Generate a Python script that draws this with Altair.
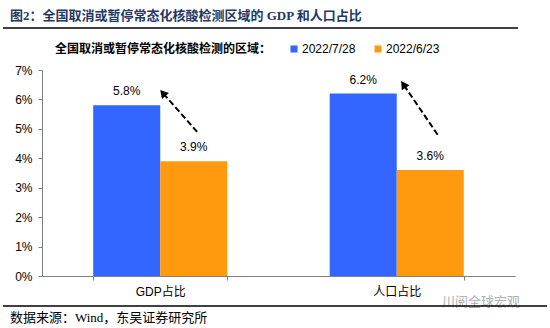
import altair as alt
import pandas as pd

# ---- data ----
categories = ["GDP占比", "人口占比"]
series = ["2022/7/28", "2022/6/23"]
values_0728 = [0.058, 0.062]
values_0623 = [0.039, 0.036]
labels_0728 = ["5.8%", "6.2%"]
labels_0623 = ["3.9%", "3.6%"]
colors = ["#3366FF", "#FF9A0E"]
y_ticks = [0.0, 0.01, 0.02, 0.03, 0.04, 0.05, 0.06, 0.07]

# dashed arrows (x in category units 0..2, y in value units)
arrow_tail_x = [0.656, 1.673]
arrow_tail_y = [0.049, 0.048]
arrow_head_x = [0.511, 1.528]
arrow_head_y = [0.0622, 0.0651]
arrow_angle = [319, 326]

title_text = "图2：全国取消或暂停常态化核酸检测区域的 GDP 和人口占比"
legend_title = "全国取消或暂停常态化核酸检测的区域："
source_text = "数据来源：Wind，东吴证券研究所"
watermark_text = "川阅全球宏观"

SANS = "Liberation Sans, Arial, Noto Sans CJK SC"
SERIF = "Liberation Serif, Times New Roman, Noto Sans CJK SC"

rows = []
for c, v1, v2, l1, l2 in zip(categories, values_0728, values_0623, labels_0728, labels_0623):
    rows.append({"category": c, "series": series[0], "value": v1, "label": l1})
    rows.append({"category": c, "series": series[1], "value": v2, "label": l2})
df = pd.DataFrame(rows)

arrow_df = pd.DataFrame({"tx": arrow_tail_x, "ty": arrow_tail_y,
                         "hx": arrow_head_x, "hy": arrow_head_y,
                         "angle": arrow_angle})

yscale = alt.Scale(domain=[0, 0.07], nice=False)
xscale = alt.Scale(domain=categories, paddingInner=0.433, paddingOuter=0.2165)

x_axis = alt.Axis(title=None, labelAngle=0, tickBand="extent", tickSize=4,
                  labelPadding=6, labelFontSize=12, labelFont=SANS,
                  labelColor="black", domainColor="#7f7f7f", tickColor="#7f7f7f")
y_axis = alt.Axis(title=None, values=y_ticks, format=".0%", tickSize=4,
                  labelPadding=6, labelFontSize=12, labelFont=SANS,
                  labelColor="black", grid=False,
                  domainColor="#7f7f7f", tickColor="#7f7f7f")

bars = alt.Chart(df).mark_bar().encode(
    x=alt.X("category:N", sort=categories, scale=xscale, axis=x_axis),
    xOffset=alt.XOffset("series:N", sort=series),
    y=alt.Y("value:Q", scale=yscale, axis=y_axis),
    color=alt.Color("series:N", sort=series,
                    scale=alt.Scale(domain=series, range=colors),
                    legend=alt.Legend(orient="none", legendX=13, legendY=-27,
                                      direction="horizontal", title=legend_title,
                                      titleOrient="left", titleFontSize=12,
                                      titleFontWeight="bold", titleFont=SANS,
                                      titleColor="black", titlePadding=16,
                                      titleBaseline="middle", titleLimit=400,
                                      symbolType="square", symbolSize=50,
                                      symbolStrokeWidth=0, labelFontSize=12,
                                      labelFont=SANS, labelColor="black",
                                      labelOffset=2, columnPadding=16)),
)

texts = alt.Chart(df).mark_text(fontSize=12, font=SANS, color="black",
                                baseline="alphabetic", dy=-10).encode(
    x=alt.X("category:N", sort=categories, scale=xscale, axis=x_axis),
    xOffset=alt.XOffset("series:N", sort=series),
    y=alt.Y("value:Q", scale=yscale, axis=y_axis),
    text="label:N",
)

arrow_x = alt.Scale(domain=[0, 2], nice=False, zero=False)
arrows = alt.Chart(arrow_df).mark_rule(strokeDash=[6, 3], strokeWidth=2, color="black").encode(
    x=alt.X("tx:Q", scale=arrow_x, axis=None),
    x2="hx",
    y=alt.Y("ty:Q", scale=yscale, axis=y_axis),
    y2="hy",
)
heads = alt.Chart(arrow_df).mark_point(shape="triangle-up", filled=True, color="black",
                                       size=85, opacity=1).encode(
    x=alt.X("hx:Q", scale=arrow_x, axis=None),
    y=alt.Y("hy:Q", scale=yscale, axis=y_axis),
    angle=alt.Angle("angle:Q", scale=None),
)

def txt(s, x, y, **kw):
    return alt.Chart(pd.DataFrame({"t": [s]})).mark_text(align="left", baseline="alphabetic", **kw).encode(
        text="t:N", x=alt.value(x), y=alt.value(y))

title = txt(title_text, -32, -50, fontSize=13, font=SERIF, fontWeight="bold", color="#1F3864")
source = txt(source_text, -32, 252, fontSize=13, font=SERIF, color="black")
watermark = txt(watermark_text, 400, 236, fontSize=13, font=SANS, color="#b0b0b0")

line_df = pd.DataFrame({"a": [0]})
top_line = alt.Chart(line_df).mark_rule(color="black", strokeWidth=1.5).encode(
    x=alt.value(-39), x2=alt.value(476), y=alt.value(-42))
bottom_line = alt.Chart(line_df).mark_rule(color="black", strokeWidth=1.5).encode(
    x=alt.value(-39), x2=alt.value(505), y=alt.value(236))

main = alt.layer(bars, texts)
chart = alt.layer(main, arrows, heads, title, source, watermark, top_line, bottom_line).resolve_scale(
    x="independent"
).properties(
    width=473, height=206,
    padding={"left": 42, "top": 70, "right": 35, "bottom": 52},
    autosize=alt.AutoSizeParams(type="none"),
).configure_view(stroke=None)

chart.save("out.html", embed_options={"renderer": "svg", "actions": False})
